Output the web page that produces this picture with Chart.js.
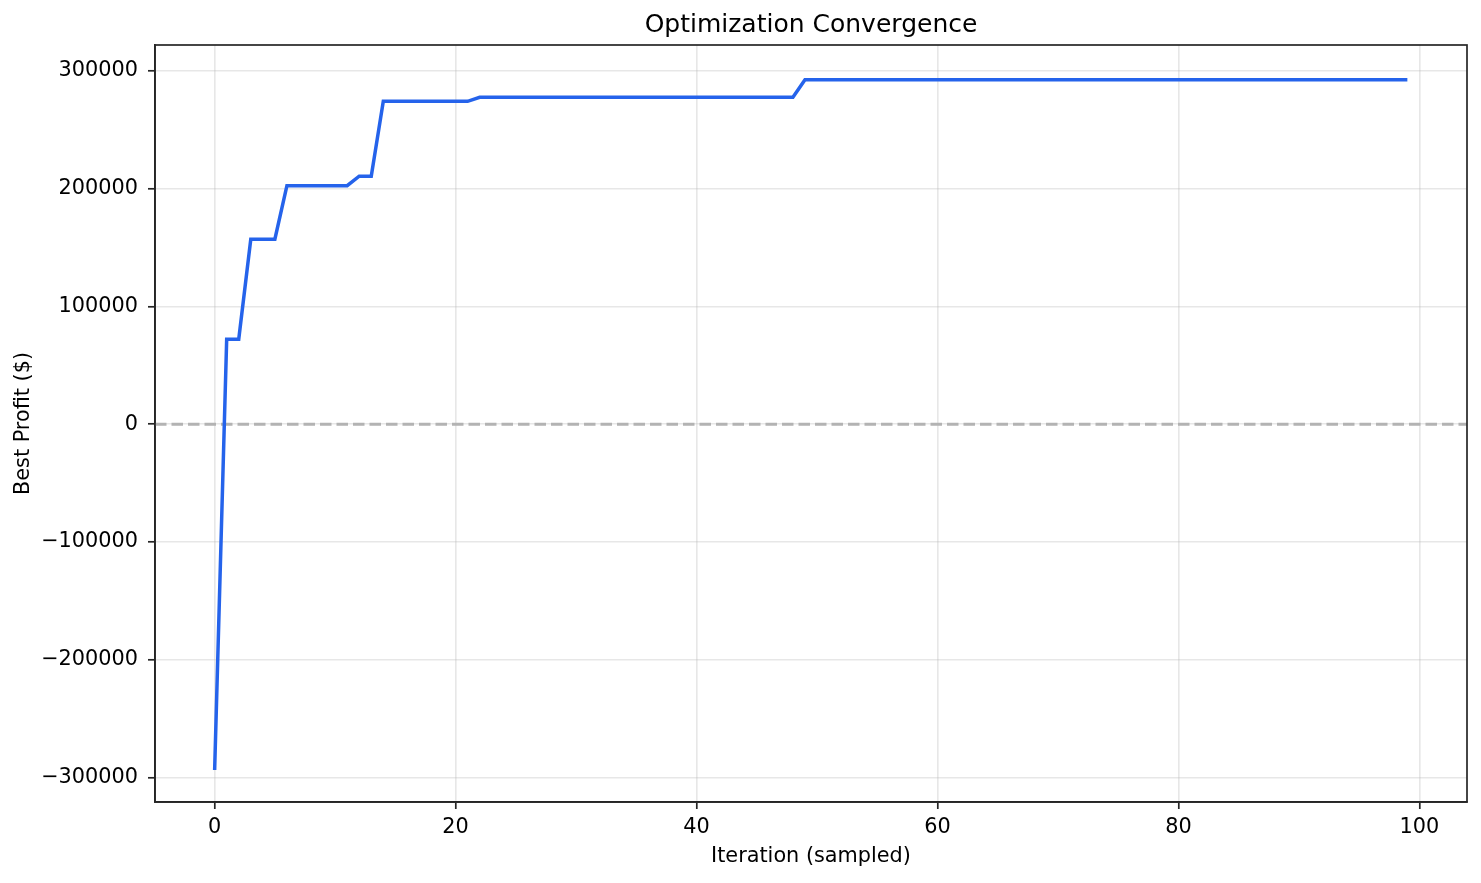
<!DOCTYPE html>
<html>
<head>
<meta charset="utf-8">
<script src="https://cdn.jsdelivr.net/npm/chart.js@4.4.1/dist/chart.umd.min.js"></script>
<style>
  html, body { margin: 0; padding: 0; background: #fff; }
  canvas { display: block; }
</style>
</head>
<body>
<canvas id="chartCanvas" width="1481" height="883"></canvas>
<script>
// Значения (лучшая прибыль на каждой итерации)
const bestProfit = [
  -293500,
  72200, 72200,
  157100, 157100, 157100,
  202600, 202600, 202600, 202600, 202600, 202600,
  210600, 210600,
  274200, 274200, 274200, 274200, 274200, 274200, 274200, 274200,
  277600, 277600, 277600, 277600, 277600, 277600, 277600, 277600, 277600,
  277600, 277600, 277600, 277600, 277600, 277600, 277600, 277600, 277600,
  277600, 277600, 277600, 277600, 277600, 277600, 277600, 277600, 277600,
  292400, 292400, 292400, 292400, 292400, 292400, 292400, 292400, 292400, 292400,
  292400, 292400, 292400, 292400, 292400, 292400, 292400, 292400, 292400, 292400,
  292400, 292400, 292400, 292400, 292400, 292400, 292400, 292400, 292400, 292400,
  292400, 292400, 292400, 292400, 292400, 292400, 292400, 292400, 292400, 292400,
  292400, 292400, 292400, 292400, 292400, 292400, 292400, 292400, 292400, 292400,
  292400
];
const xTicks = [0, 20, 40, 60, 80, 100];
const yTicks = [-300000, -200000, -100000, 0, 100000, 200000, 300000];
const chartTitle = 'Optimization Convergence';

const FONT = 'DejaVu Sans';
Chart.defaults.font.family = FONT;
Chart.defaults.color = '#000';

// рамка вокруг области графика, пунктир на нуле и заголовок по центру области
const framePlugin = {
  id: 'frame',
  beforeDatasetsDraw(chart) {
    const { ctx, chartArea: a, scales } = chart;
    const y0 = scales.y.getPixelForValue(0);
    ctx.save();
    ctx.strokeStyle = '#b3b3b3';
    ctx.lineWidth = 3;
    ctx.setLineDash([11.5, 5]);
    ctx.beginPath();
    ctx.moveTo(a.left, y0);
    ctx.lineTo(a.right, y0);
    ctx.stroke();
    ctx.restore();
  },
  afterDraw(chart) {
    const { ctx, chartArea: a } = chart;
    ctx.save();
    ctx.strokeStyle = '#262626';
    ctx.lineWidth = 1.7;
    ctx.strokeRect(a.left, a.top, a.right - a.left, a.bottom - a.top);
    // заголовок
    ctx.fillStyle = '#000';
    ctx.font = '25px "' + FONT + '"';
    ctx.textAlign = 'center';
    ctx.textBaseline = 'middle';
    ctx.fillText(chartTitle, (a.left + a.right) / 2, 25);
    ctx.restore();
  }
};

const gridColor = 'rgba(176,176,176,0.3)';

const config = {
  type: 'line',
  data: {
    datasets: [{
      data: bestProfit.map((v, i) => ({ x: i, y: v })),
      borderColor: '#2563eb',
      borderWidth: 3.5,
      pointRadius: 0,
      tension: 0,
      fill: false,
    }],
  },
  options: {
    responsive: false,
    animation: false,
    layout: { padding: { left: 0, right: 14, top: 45, bottom: 0 } },
    plugins: {
      legend: { display: false },
      tooltip: { enabled: false },
      title: { display: false },
    },
    scales: {
      x: {
        type: 'linear',
        min: -4.95,
        max: 103.95,
        afterBuildTicks: (s) => { s.ticks = xTicks.map(v => ({ value: v })); },
        afterFit: (s) => { s.height = 81; },
        ticks: {
          color: '#000',
          font: { size: 20.8 },
          padding: 6,
          maxRotation: 0,
        },
        grid: { color: gridColor, lineWidth: 1.6, tickColor: '#262626', tickLength: 7, tickWidth: 1.7 },
        border: { color: '#262626', width: 1.7 },
        title: {
          display: true,
          text: 'Iteration (sampled)',
          color: '#000',
          font: { size: 20.8, lineHeight: 1.2 },
          padding: { top: 0, bottom: 14 },
        },
      },
      y: {
        type: 'linear',
        min: -320700,
        max: 322000,
        afterBuildTicks: (s) => { s.ticks = yTicks.map(v => ({ value: v })); },
        afterFit: (s) => { s.width = 155; },
        ticks: {
          color: '#000',
          font: { size: 20.8 },
          padding: 10,
          callback: (v) => (v < 0 ? '\u2212' + Math.abs(v) : String(v)),
        },
        grid: { color: gridColor, lineWidth: 1.6, tickColor: '#262626', tickLength: 7, tickWidth: 1.7 },
        border: { color: '#262626', width: 1.7 },
        title: {
          display: true,
          text: 'Best Profit ($)',
          color: '#000',
          font: { size: 20.8, lineHeight: 1.2 },
          padding: { top: 11, bottom: 0 },
        },
      },
    },
  },
  plugins: [framePlugin],
};

new Chart(document.getElementById('chartCanvas'), config);
</script>
</body>
</html>
